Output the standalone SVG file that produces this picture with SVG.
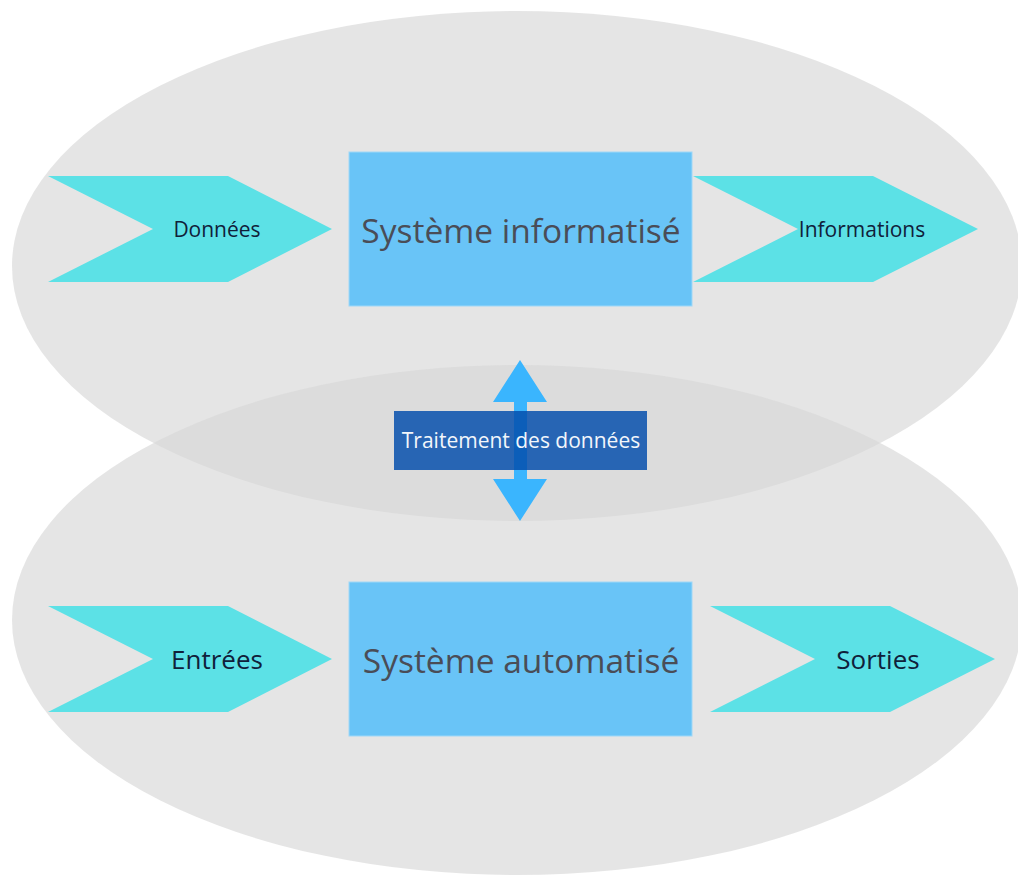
<svg xmlns="http://www.w3.org/2000/svg" width="1018" height="875" viewBox="0 0 1018 875">
<style>
.bg{fill:#d7d7d7;fill-opacity:0.65}
.chev{fill:#5ce1e6}
.box{fill:#69c4f7;stroke:#9fd8f8;stroke-width:1}
.t{font-family:"Open Sans","Noto Sans","DejaVu Sans",sans-serif;text-anchor:middle;dominant-baseline:central}
.big{font-size:33.5px;fill:#4a4d57}
.small{font-size:21px;fill:#10203a}
.mid{font-size:26px;fill:#10203a}
</style>
<rect width="1018" height="875" fill="#ffffff"/>
<g id="ellipse-top"><ellipse class="bg" cx="517" cy="266" rx="505" ry="255"/></g>
<g id="ellipse-bottom"><ellipse class="bg" cx="517" cy="620" rx="505" ry="255"/></g>
<g id="donnees">
<polygon class="chev" points="48,176 228,176 332,229 228,282 48,282 153,229"/>
<text class="t small" x="217" y="229">Données</text>
</g>
<g id="informations">
<polygon class="chev" points="693,176 873,176 978,229 873,282 693,282 798,229"/>
<text class="t small" x="862" y="229">Informations</text>
</g>
<g id="entrees">
<polygon class="chev" points="48,606 228,606 332,659 228,712 48,712 153,659"/>
<text class="t mid" x="217" y="659">Entrées</text>
</g>
<g id="sorties">
<polygon class="chev" points="710,606 890,606 995,659 890,712 710,712 815,659"/>
<text class="t mid" x="878" y="659">Sorties</text>
</g>
<g id="systeme-informatise">
<rect class="box" x="349" y="152" width="343" height="154"/>
<text class="t big" x="521" y="230">Système informatisé</text>
</g>
<g id="systeme-automatise">
<rect class="box" x="349" y="582" width="343" height="154"/>
<text class="t big" x="521" y="660">Système automatisé</text>
</g>
<g id="connectors">
<polygon fill="#3ab5fe" points="520,360 547,402 527,402 527,479 547,479 520,521 493,479 514,479 514,402 493,402"/>
</g>
<g id="traitement">
<rect x="394" y="411" width="253" height="59" fill="#034dac" fill-opacity="0.84"/>
<text class="t" x="521" y="440" font-size="21" fill="#f2f6fb">Traitement des données</text>
</g>
</svg>
